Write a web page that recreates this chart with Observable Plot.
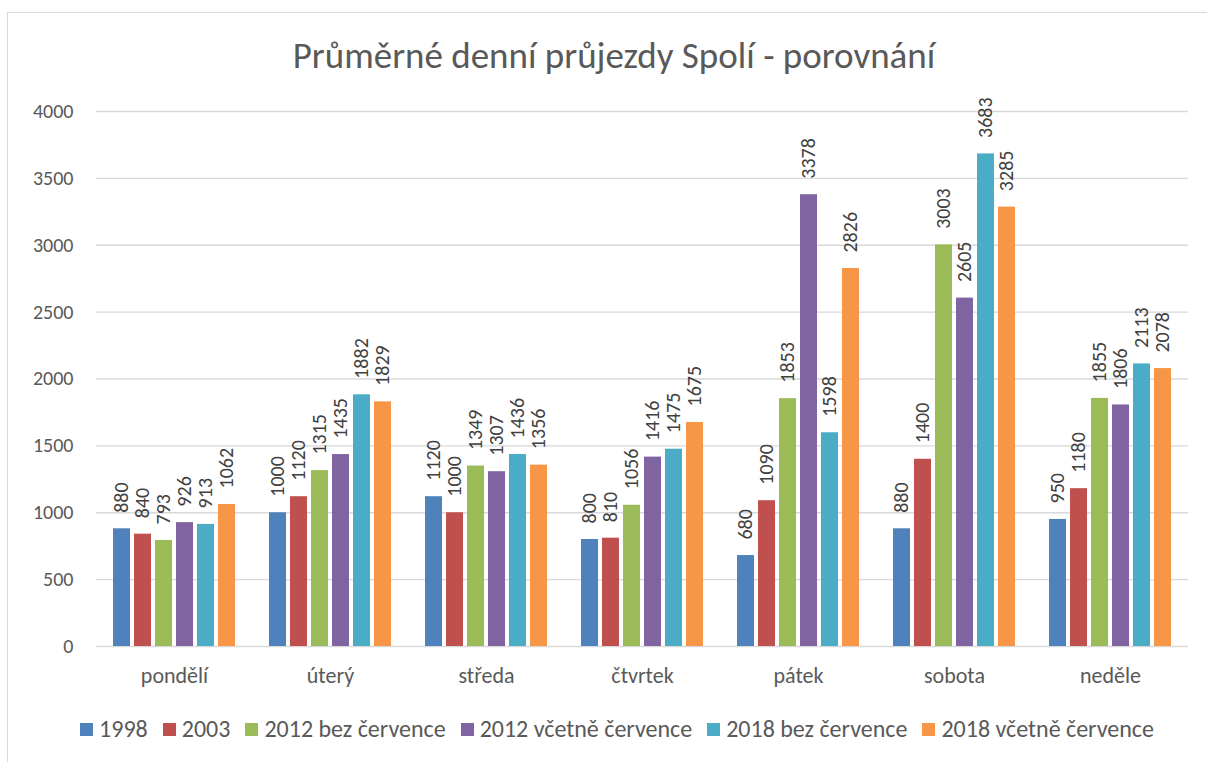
<!DOCTYPE html>
<html><head><meta charset="utf-8">
<script src="https://cdn.jsdelivr.net/npm/d3@7"></script>
<script src="https://cdn.jsdelivr.net/npm/@observablehq/plot@0.6"></script>
<style>
html,body{margin:0;background:#fff;font-family:Calibri,Carlito,Lato,sans-serif;overflow:hidden;width:1207px;height:762px;}
#frame{position:absolute;left:7px;top:12px;width:1212px;height:800px;border:1px solid #d9d9d9;box-sizing:border-box;}
#title{position:absolute;left:0;width:1228px;top:33px;text-align:center;font-size:37px;color:#595959;white-space:nowrap;}
#chart{position:absolute;left:0;top:80px;}
#legend{position:absolute;left:0;width:1234px;top:714px;display:flex;justify-content:center;gap:15px;font-size:24px;color:#595959;white-space:nowrap;}
#legend span.sw{display:inline-block;width:13px;height:13px;margin-right:6px;vertical-align:1px;}
</style></head>
<body>
<div id="frame"></div>
<div id="title">Průměrné denní průjezdy Spolí - porovnání</div>
<div id="chart"></div>
<div id="legend"></div>
<script>
const days = ["pondělí","úterý","středa","čtvrtek","pátek","sobota","neděle"];
const seriesNames = ["1998","2003","2012 bez července","2012 včetně července","2018 bez července","2018 včetně července"];
const s1998 = [880,1000,1120,800,680,880,950];
const s2003 = [840,1120,1000,810,1090,1400,1180];
const s2012bez = [793,1315,1349,1056,1853,3003,1855];
const s2012vc = [926,1435,1307,1416,3378,2605,1806];
const s2018bez = [913,1882,1436,1475,1598,3683,2113];
const s2018vc = [1062,1829,1356,1675,2826,3285,2078];
const colors = ["#4F81BD","#C0504D","#9BBB59","#8064A2","#4BACC6","#F79646"];
const yTicks = [0,500,1000,1500,2000,2500,3000,3500,4000];

const allSeries = [s1998,s2003,s2012bez,s2012vc,s2018bez,s2018vc];
const data = [];
days.forEach((d,i)=>allSeries.forEach((s,j)=>data.push({day:d, series:seriesNames[j], value:s[i]})));

const chart = Plot.plot({
  width: 1207, height: 620,
  marginLeft: 96, marginRight: 19, marginTop: 31, marginBottom: 54,
  style: {fontFamily: "Calibri,Carlito,Lato,sans-serif", color:"#595959", background:"transparent"},
  fx: {domain: days, padding: 0, label: null},
  x: {domain: seriesNames, paddingInner: 0.2, paddingOuter: 0.81, axis: null},
  y: {domain: [0,4000], ticks: yTicks, label: null},
  color: {domain: seriesNames, range: colors},
  marks: [
    Plot.gridY(yTicks, {stroke:"#d9d9d9", strokeOpacity:1, strokeWidth:1.3}),
    Plot.axisY(yTicks, {tickSize:0, tickPadding:23, fontSize:20, label:null, tickFormat: d=>String(d)}),
    Plot.axisFx({anchor:"bottom", tickSize:0, tickPadding:21, fontSize:22, label:null}),
    Plot.barY(data, {fx:"day", x:"series", y:"value", fill:"series"}),
    Plot.text(data, {fx:"day", x:"series", y:"value", text: d=>String(d.value), rotate:-90, textAnchor:"start", dy:-16, fontSize:20, fill:"#404040"})
  ]
});
document.getElementById("chart").appendChild(chart);

const lg = document.getElementById("legend");
seriesNames.forEach((n,i)=>{
  const it = document.createElement("div");
  it.innerHTML = `<span class="sw" style="background:${colors[i]}"></span>${n}`;
  lg.appendChild(it);
});
</script>
</body></html>
